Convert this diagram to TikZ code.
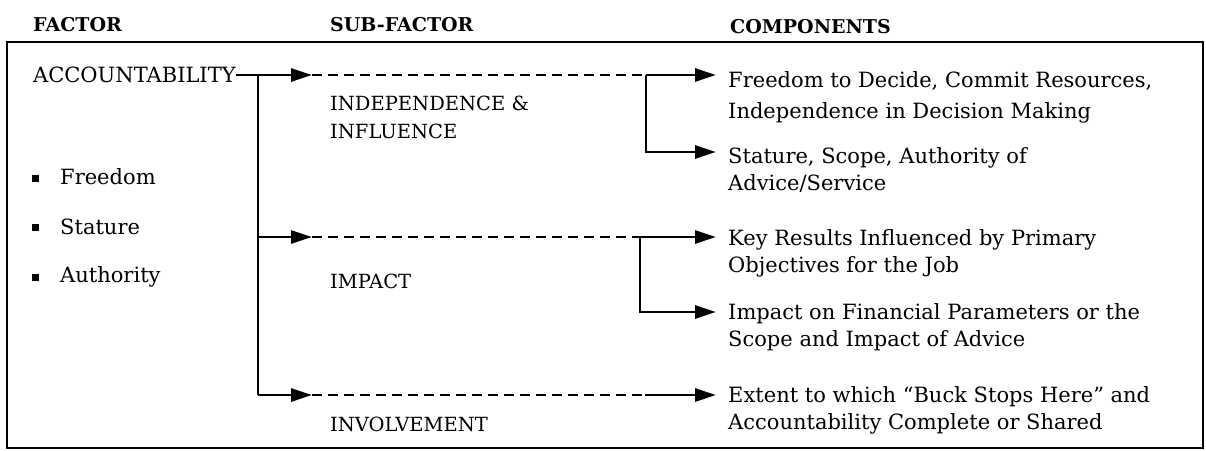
\documentclass[tikz,border=0pt]{standalone}
\usepackage{fontspec}
\setmainfont{DejaVu Serif}
\usetikzlibrary{arrows.meta}
\begin{document}
\begin{tikzpicture}[x=1pt,y=-1pt,
  solidline/.style={line width=2.8pt},
  arr/.style={line width=2.8pt,-{Triangle[length=21pt,width=13pt]}},
  dashline/.style={line width=2.4pt,dash pattern=on 10pt off 6pt},
  txt/.style={inner sep=0pt,font=\fontsize{21}{27}\selectfont,align=left},
  sub/.style={inner sep=0pt,font=\fontsize{19.5}{28}\selectfont,align=left},
  hdr/.style={anchor=west,inner sep=0pt,font=\bfseries\fontsize{19}{22}\selectfont},
  bul/.style={fill=black,minimum size=7pt,inner sep=0pt}]
\useasboundingbox (0,0) rectangle (1206,450);
\draw[line width=2.4pt] (7,42) rectangle (1203,448);
% headers
\node[hdr] (h1) at (33,25) {FACTOR};
\node[hdr] (h2) at (330,25) {SUB-FACTOR};
\node[hdr] (h3) at (730,27) {COMPONENTS};
% factor
\node[txt,anchor=west] (acc) at (33,75) {ACCOUNTABILITY};
\node[bul] (b1) at (35,178) {};
\node[bul] (b2) at (35,227) {};
\node[bul] (b3) at (35,277) {};
\node[txt,anchor=west] (f1) at (60,177) {Freedom};
\node[txt,anchor=west] (f2) at (60,227) {Stature};
\node[txt,anchor=west] (f3) at (60,277) {Authority};
% sub-factors
\node[sub,anchor=north west] (s1) at (330,96) {INDEPENDENCE \&\\INFLUENCE};
\node[sub,anchor=west] (s2) at (330,281) {IMPACT};
\node[sub,anchor=west] (s3) at (330,424) {INVOLVEMENT};
% components
\node[txt,anchor=north west,font=\fontsize{21}{31}\selectfont] (c1) at (728,71) {Freedom to Decide, Commit Resources,\\Independence in Decision Making};
\node[txt,anchor=north west] (c2) at (728,147) {Stature, Scope, Authority of\\Advice/Service};
\node[txt,anchor=north west] (c3) at (728,229) {Key Results Influenced by Primary\\Objectives for the Job};
\node[txt,anchor=north west] (c4) at (728,303) {Impact on Financial Parameters or the\\Scope and Impact of Advice};
\node[txt,anchor=north west] (c5) at (728,386) {Extent to which \textquotedblleft Buck Stops Here\textquotedblright{} and\\Accountability Complete or Shared};
% junction coordinates
\coordinate (j1) at (258,75);
\coordinate (j2) at (258,237);
\coordinate (j3) at (258,395);
\coordinate (a1) at (312,75);
\coordinate (a2) at (312,237);
\coordinate (a3) at (312,395);
\coordinate (d1) at (646,75);
\coordinate (d2) at (640,237);
\coordinate (d3) at (645,395);
\coordinate (t1) at (716,75);
\coordinate (t2) at (716,152);
\coordinate (t3) at (716,237);
\coordinate (t4) at (716,312);
\coordinate (t5) at (716,395);
% connectors
\draw[solidline] (acc.east) -- (j1) -- (j3);
\draw[arr] (j1) -- (a1);
\draw[arr] (j2) -- (a2);
\draw[arr] (j3) -- (a3);
\draw[dashline] (a1) -- (d1);
\draw[dashline] (a2) -- (d2);
\draw[dashline] (a3) -- (d3);
\draw[arr] (d1) -- (t1);
\draw[arr] (d1) |- (t2);
\draw[arr] (d2) -- (t3);
\draw[arr] (d2) |- (t4);
\draw[arr] (d3) -- (t5);
\end{tikzpicture}
\end{document}
